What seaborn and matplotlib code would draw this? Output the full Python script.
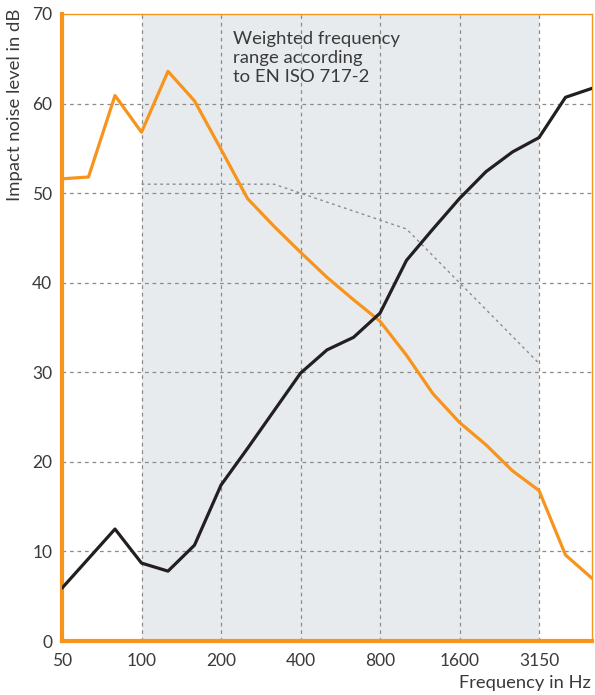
import numpy as np
import pandas as pd
import seaborn as sns
import matplotlib.pyplot as plt

# third-octave bands, 50 Hz .. 5000 Hz
bands = [50, 63, 80, 100, 125, 160, 200, 250, 315, 400, 500, 630,
         800, 1000, 1250, 1600, 2000, 2500, 3150, 4000, 5000]

# impact noise level, bare floor (orange)
level_bare = [51.6, 51.8, 60.9, 56.8, 63.6, 60.3, 54.9, 49.4, 46.3, 43.4, 40.6,
              38.1, 35.7, 31.9, 27.6, 24.4, 21.9, 19.0, 16.8, 9.6, 7.0]
# impact noise level, black curve
level_black = [5.9, 9.2, 12.5, 8.7, 7.8, 10.7, 17.4, 21.5, 25.7, 29.9, 32.5,
               33.9, 36.6, 42.5, 46.0, 49.4, 52.4, 54.6, 56.2, 60.7, 61.7]
# shifted reference curve EN ISO 717-2, 100 .. 3150 Hz
ref_bands = [100, 125, 160, 200, 250, 315, 400, 500, 630, 800, 1000,
             1250, 1600, 2000, 2500, 3150]
ref_curve = [51, 51, 51, 51, 51, 51, 50, 49, 48, 47, 46, 43, 40, 37, 34, 31]

tick_labels = ['50', '100', '200', '400', '800', '1600', '3150']
y_ticks = [0, 10, 20, 30, 40, 50, 60, 70]

ORANGE = '#f7941d'
BLACK = '#231f20'
GRID = '#8c8c8c'
TEXT = '#3a3a3a'
SHADE = '#e8ebee'

sns.set_style('white')
plt.rcParams['font.family'] = ['Lato', 'DejaVu Sans']

idx = {f: i for i, f in enumerate(bands)}
df = pd.DataFrame({
    'pos': list(range(len(bands))) * 2,
    'level': level_bare + level_black,
    'curve': ['bare'] * len(bands) + ['black'] * len(bands),
})
ref = pd.DataFrame({'pos': [idx[f] for f in ref_bands], 'level': ref_curve})

fig = plt.figure(figsize=(5.95, 6.95), dpi=100)
ax = fig.add_axes([62 / 595, 1 - 641 / 695, 530 / 595, 627 / 695])

ax.axvspan(idx[100], idx[3150], color=SHADE, lw=0, zorder=0)

for v in [10, 20, 30, 40, 50, 60]:
    ax.axhline(v, color=GRID, lw=0.9, ls=(0, (3, 3)), zorder=1)
for f in [100, 200, 400, 800, 1600, 3150]:
    ax.axvline(idx[f], color=GRID, lw=0.9, ls=(0, (3, 3)), zorder=1)

sns.lineplot(data=ref, x='pos', y='level', ax=ax, color=GRID, lw=1.0,
             linestyle=(0, (2, 2.5)), zorder=2)
sns.lineplot(data=df, x='pos', y='level', hue='curve', ax=ax,
             palette={'bare': ORANGE, 'black': BLACK}, lw=2.3,
             legend=False, zorder=3)

ax.set_xlim(0, len(bands) - 1)
ax.set_ylim(0, 70)
ax.set_xticks([idx[int(t)] for t in tick_labels])
ax.set_xticklabels(tick_labels)
ax.set_yticks(y_ticks)
ax.tick_params(axis='both', length=0, labelsize=12.5, colors=TEXT)
ax.tick_params(axis='y', pad=7)
ax.tick_params(axis='x', pad=9)
ax.set_xlabel('')
ax.set_ylabel('')

for side in ['left', 'bottom']:
    ax.spines[side].set_color(ORANGE)
    ax.spines[side].set_linewidth(3.0)
for side in ['top', 'right']:
    ax.spines[side].set_color(ORANGE)
    ax.spines[side].set_linewidth(1.0)

ax.text(6.45, 68.1, 'Weighted frequency\nrange according\nto EN ISO 717-2',
        ha='left', va='top', fontsize=13.3, color=TEXT, linespacing=1.22,
        zorder=4)

fig.text(15 / 595, 1 - 9 / 695, 'Impact noise level in dB', rotation=90,
         ha='center', va='top', fontsize=13.3, color=TEXT)
fig.text(591 / 595, 1 - 683 / 695, 'Frequency in Hz', ha='right',
         va='center', fontsize=13.2, color=TEXT)

fig.savefig('out.png', dpi=100)
